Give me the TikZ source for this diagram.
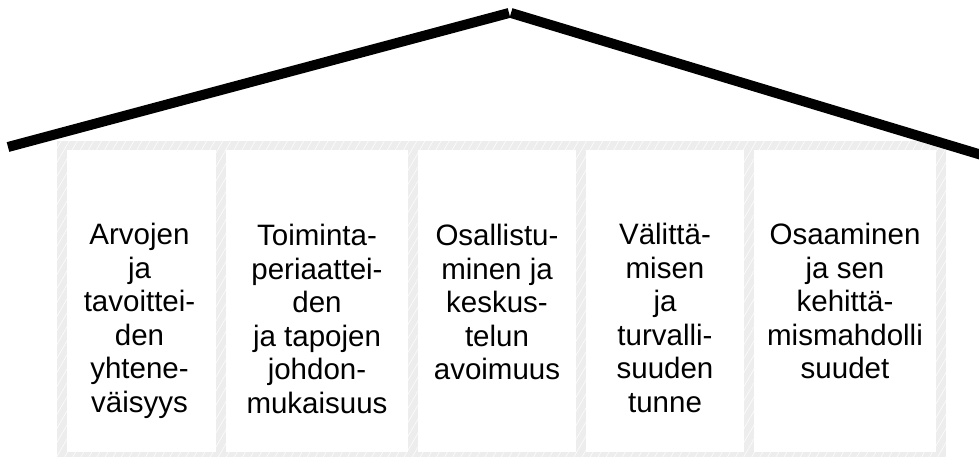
\documentclass[tikz,border=0pt]{standalone}
\usepackage{fontspec}
\setmainfont{Liberation Sans}
\usetikzlibrary{patterns.meta,positioning}

\begin{document}
\begin{tikzpicture}[
    x=1pt,
    y=-1pt,
    semithick
  ]

  \tikzstyle{pillar}=[fill=white,draw=none,minimum height=302pt,inner sep=0pt,outer sep=0pt]
  \tikzstyle{pillartext}=[align=center,anchor=north,inner sep=0pt,font=\fontsize{29.5}{33.5}\selectfont]
  \tikzstyle{roof}=[line width=10pt,black]

  \useasboundingbox (0,0) rectangle (979,457);

  % hatched wall behind the pillars
  \fill[gray!14] (57,141) rectangle (946,457);
  \fill[pattern={Lines[angle=60,distance=7pt,line width=0.5pt]},pattern color=white] (57,141) rectangle (946,457);

  % pillars
  \node[pillar,minimum width=149pt,anchor=north west] (b1) at (67,150) {};
  \node[pillar,minimum width=182pt,right=10pt of b1] (b2) {};
  \node[pillar,minimum width=158pt,right=10pt of b2] (b3) {};
  \node[pillar,minimum width=158pt,right=10pt of b3] (b4) {};
  \node[pillar,minimum width=182pt,right=10pt of b4] (b5) {};

  \node[pillartext] (t1) at ([xshift=-2pt,yshift=-73pt]b1.north) {Arvojen\\ja\\tavoittei-\\den\\yhtene-\\väisyys};
  \node[pillartext] (t2) at ([yshift=-74pt]b2.north) {Toiminta-\\periaattei-\\den\\ja tapojen\\johdon-\\mukaisuus};
  \node[pillartext] (t3) at ([yshift=-74pt]b3.north) {Osallistu-\\minen ja\\keskus-\\telun\\avoimuus};
  \node[pillartext] (t4) at ([yshift=-73pt]b4.north) {Välittä-\\misen\\ja\\turvalli-\\suuden\\tunne};
  \node[pillartext] (t5) at ([yshift=-73pt]b5.north) {Osaaminen\\ja sen\\kehittä-\\mismahdolli\\suudet};

  % roof
  \coordinate (eaveL) at (8,147);
  \coordinate (ridgeL) at (509,13);
  \coordinate (ridgeR) at (511,13);
  \coordinate (eaveR) at (985,156);
  \draw[roof] (eaveL) -- (ridgeL);
  \draw[roof] (ridgeR) -- (eaveR);
\end{tikzpicture}
\end{document}
